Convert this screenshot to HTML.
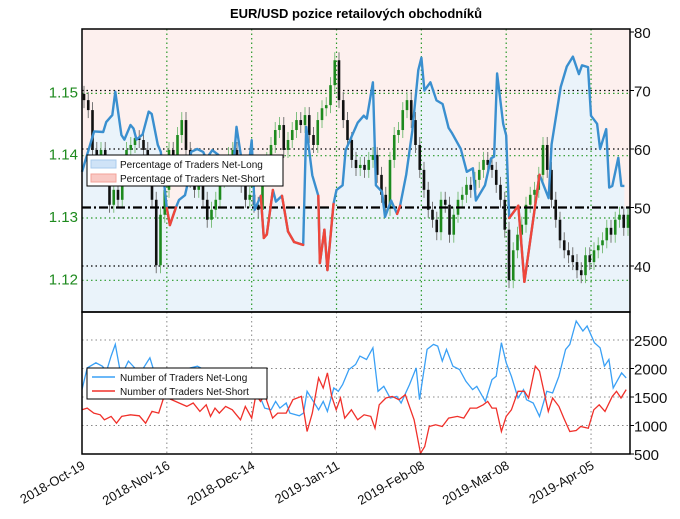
<!DOCTYPE html>
<html><head><meta charset="utf-8"><style>
body{margin:0;background:#fff}
svg{display:block;font-family:"Liberation Sans",sans-serif}
</style></head><body>
<svg id="c" width="680" height="519"></svg>
<script>
const NS="http://www.w3.org/2000/svg";
// ---- data ----
const candleCloses=[1.1486,1.1470,1.1406,1.1390,1.1406,1.1382,1.1318,1.1342,1.1326,1.1374,1.1406,1.1414,1.1425,1.1422,1.1406,1.1366,1.1326,1.1221,1.1302,1.1342,1.1406,1.1382,1.1430,1.1454,1.1406,1.1358,1.1342,1.1350,1.1326,1.1294,1.1310,1.1326,1.1358,1.1382,1.1398,1.1406,1.1382,1.1350,1.1326,1.1334,1.1318,1.1310,1.1366,1.1390,1.1414,1.1438,1.1446,1.1406,1.1422,1.1438,1.1454,1.1446,1.1462,1.1430,1.1414,1.1454,1.1473,1.1478,1.1510,1.1550,1.1486,1.1454,1.1422,1.1390,1.1377,1.1382,1.1374,1.1390,1.1398,1.1366,1.1334,1.1313,1.1390,1.1430,1.1438,1.1470,1.1486,1.1454,1.1414,1.1374,1.1342,1.1310,1.1294,1.1274,1.1326,1.1318,1.1270,1.1302,1.1326,1.1334,1.1350,1.1342,1.1358,1.1374,1.1390,1.1382,1.1374,1.1350,1.1326,1.1278,1.1197,1.1245,1.1270,1.1286,1.1318,1.1334,1.1342,1.1366,1.1414,1.1374,1.1326,1.1294,1.1261,1.1245,1.1237,1.1226,1.1213,1.1205,1.1237,1.1226,1.1245,1.1253,1.1261,1.1281,1.1270,1.1294,1.1302,1.1281,1.1302];
const pctDays=[0,4,7,8,10,11,13,14,16,17,18,20,22,23,25,26,28,29,31,32,34,35,36,38,40,41,43,45,46,48,50,51,53,55,56,57,59,60,61,63,64,66,68,70,73,74,76,78,78.5,80,81,83,84,86,87,91,93,94,96,97,99,100,102,104,105,107,109,111,112,113,115,117,119,121,122,125,127,129,130,133,135,136,137,139,140,141,144,146,151,154,155,158,160,162,164,165,167,168,170,171,173,174,175,177,178,179];
const pctVals=[56.1,63,62.9,64.6,65.8,69.8,62.4,61.6,64.1,63.5,61.6,62.5,66.4,66,60.7,59.5,49.9,47,50,51.3,52.1,54.4,59.5,60,59.5,58.3,59.8,59,57.5,55,57.4,63.8,57,57,61.5,49.6,52,44.8,45.4,53,51,52,45.9,44.1,43.6,63.8,55.5,52,40.5,46.2,39.3,50.6,53,53.8,59.8,64.5,65.7,65.2,71.4,53.8,52.7,48.4,51.2,48.9,50.3,55.6,63.1,73.5,75.6,70,71.4,68.3,67.7,63.6,62.8,60,56.1,56.7,51.2,53.8,58.4,58.7,72.9,64.3,62.3,48.2,50.3,37.3,55.6,51.6,60.8,70.6,74.1,75.8,72.8,74.3,74,65.7,64.3,60,63.4,53.4,53.7,58.5,53.7,53.7];
const longDays=[0,1.7,4.6,6.7,8.1,9.6,11,12.9,15.3,17.4,19.6,22.4,24.3,38.1,58.9,60.3,62.4,63.9,65.3,67.4,68.6,71.7,73.1,74.3,76,78.1,79.6,81,83.1,84.6,86,88.1,90.3,91.7,93.9,96,97.7,99.6,101.7,103.9,105.3,108.1,110.3,111.4,113.9,116,117.4,118.9,120.3,122.4,124.6,126.7,128.9,130.3,133.1,135.3,136.7,138.4,140,141.7,143.9,145.7,146.7,148.9,151,153.4,155.3,157.4,159.6,161,163.1,165.3,166.7,169.1,171,172.4,173.9,175.3,178.1,179.6];
const longVals=[1629,2011,2100,2040,1952,2217,2423,1864,2129,2011,1952,2188,1864,2041,1482,1306,1276,1423,1306,1394,1217,1170,1217,1600,1453,1276,1423,1247,1658,1600,1717,1982,2070,2217,2158,2364,1600,1688,1482,1511,1394,1717,2011,1453,2335,2423,2393,2129,2335,2041,1982,1776,1629,1688,1423,1805,1864,2452,2100,1864,1482,1629,1453,1394,1159,1600,1570,1864,2335,2423,2834,2658,2746,2452,2364,2041,2158,1658,1923,1835];
const shortDays=[0,1.7,3.9,6,7.4,9.6,11.4,13.1,16,18.9,21,23.1,25.3,27.1,34.6,36.7,38.9,41,42.4,43.9,45.3,47.4,49.6,52.3,53.9,56,57.4,58.9,60.3,62.9,64.6,67.4,69.6,72.4,74.3,76,78.1,79.6,81,82.4,83.9,85.3,86.7,88.9,91,93.1,95.3,96.7,98.1,100.3,102.4,104.6,106.7,109.6,111.7,113.1,114.6,116.7,118.9,121,123.9,126,128.1,130.3,132.4,133.9,135.3,136.7,138.4,140,141.7,143.9,146,147.4,149.6,151,153.9,155.3,157.4,159,161,163.1,164.6,167.1,168.9,170.7,172.6,175,176.4,177.9,179.6];
const shortVals=[1276,1306,1217,1188,1100,1159,1041,1159,1188,1170,1041,1247,1217,1511,1335,1394,1247,1364,1159,1306,1217,1335,1276,1100,1335,1129,1541,1423,1541,1129,1217,1217,1453,1511,894,1217,1835,1658,1923,1511,1276,1482,1129,1276,1100,1188,1159,953,1364,1482,1511,1453,1541,1100,512,629,982,1012,982,1129,1159,1129,1306,1306,1364,1423,1306,1306,894,1159,1276,1600,1600,1482,2041,1952,1247,1482,1335,1129,894,912,982,953,1276,1364,1247,1511,1600,1482,1629];
const dateLabels=["2018-Oct-19","2018-Nov-16","2018-Dec-14","2019-Jan-11","2019-Feb-08","2019-Mar-08","2019-Apr-05"];
const dateTickDays=[0,28,56,84,112,140,168];
const pctTicks=[80,70,60,50,40];
const priceTicks=[1.15,1.14,1.13,1.12];
const countTicks=[2500,2000,1500,1000,500];
// ---- geometry ----
const L=82,R=630,T1=29,B1=312,T2=312,B2=454;
const xd=d=>L+d*3.03;
const yp=v=>32+(80-v)*5.85;
const ypr=p=>216-(p-1.13)*6230;
const yc=v=>454-(v-500)/500*28.5;
const svg=document.getElementById('c');
function mk(tag,attrs,parent){const e=document.createElementNS(NS,tag);for(const k in attrs)e.setAttribute(k,attrs[k]);(parent||svg).appendChild(e);return e;}
// panels background
let bg=mk('rect',{x:L,y:T1,width:R-L,height:B1-T1,fill:'#fdf0ee'});


let bg2=mk('rect',{x:L,y:T2,width:R-L,height:B2-T2,fill:'#fff'});


// blue area under pct line
let pts=pctDays.map((d,i)=>xd(d).toFixed(1)+','+yp(pctVals[i]).toFixed(1));
let area=mk('polygon',{points:xd(0)+','+B1+' '+pts.join(' ')+' '+xd(pctDays[pctDays.length-1])+','+B1,fill:'#eaf3fa'});


let below=mk('rect',{x:L,y:yp(50),width:R-L,height:B1-yp(50),fill:'#eaf3fa'});


// grids
const gg=mk('g',{});


pctTicks.forEach(v=>{if(v===50||v===80)return;mk('line',{x1:L,x2:R,y1:yp(v),y2:yp(v),stroke:'#000','stroke-dasharray':'1.5,3','stroke-width':1.2},gg);});
priceTicks.forEach(p=>{mk('line',{x1:L,x2:R,y1:ypr(p)+2,y2:ypr(p)+2,stroke:'#2a9a2a','stroke-dasharray':'1.5,3','stroke-width':1.2},gg);});
dateTickDays.slice(1).forEach(d=>{mk('line',{x1:xd(d),x2:xd(d),y1:T1,y2:B1,stroke:'#2a9a2a','stroke-dasharray':'1.5,3','stroke-width':1.2},gg);
 mk('line',{x1:xd(d),x2:xd(d),y1:T2,y2:B2,stroke:'#888','stroke-dasharray':'1.5,3','stroke-width':1},gg);});
countTicks.slice(0,4).forEach(v=>{mk('line',{x1:L,x2:R,y1:yc(v),y2:yc(v),stroke:'#888','stroke-dasharray':'1.5,3','stroke-width':1},gg);});
// candles
const cg=mk('g',{});


const step=(R-4-L)/(candleCloses.length-1);
candleCloses.forEach((c,i)=>{
 const o=i?candleCloses[i-1]:c+0.001;const x=L+2+i*step;
 const up=c>=o;const col=up?'#1e8a1e':'#111';
 const y1=ypr(Math.max(o,c)),y2=ypr(Math.min(o,c));
 mk('line',{x1:x,x2:x,y1:y1-8,y2:y2+8,stroke:up?'#7fbf7f':'#777','stroke-width':1},cg);
 const r=mk('rect',{x:x-1.3,y:y1,width:2.6,height:Math.max(1,y2-y1),fill:col},cg);
 
 
});
// 50 line
let fifty=mk('line',{x1:L,x2:R,y1:yp(50),y2:yp(50),stroke:'#000','stroke-width':2.2,'stroke-dasharray':'9,3,2,3'});


// pct line
let pl=mk('polyline',{points:pts.join(' '),fill:'none',stroke:'#3a8fcf','stroke-width':2.4,'stroke-linejoin':'round'});


for(let i=1;i<pctVals.length;i++){
 if(pctVals[i]<50.5||pctVals[i-1]<49.8&&pctVals[i]<56){
  if(pctVals[i]<50.5&&pctVals[i-1]<50.5||pctVals[i]<48||pctVals[i-1]<48){
   let s=mk('line',{x1:xd(pctDays[i-1]),y1:yp(pctVals[i-1]),x2:xd(pctDays[i]),y2:yp(pctVals[i]),stroke:'#f0463a','stroke-width':2.4,'stroke-linecap':'round'});
   
   
  }
 }
}
// count lines
let lp=mk('polyline',{points:longDays.map((d,i)=>xd(d).toFixed(1)+','+yc(longVals[i]).toFixed(1)).join(' '),fill:'none',stroke:'#3aa0f5','stroke-width':1.3});


let sp=mk('polyline',{points:shortDays.map((d,i)=>xd(d).toFixed(1)+','+yc(shortVals[i]).toFixed(1)).join(' '),fill:'none',stroke:'#f0302a','stroke-width':1.3});


// frames
let f1=mk('rect',{x:L,y:T1,width:R-L,height:B1-T1,fill:'none',stroke:'#000','stroke-width':1.5});


let f2=mk('rect',{x:L,y:T2,width:R-L,height:B2-T2,fill:'none',stroke:'#000','stroke-width':1.5});


// axis labels
pctTicks.forEach(v=>{mk('line',{x1:R,x2:R+4,y1:yp(v),y2:yp(v),stroke:'#000'});
 let t=mk('text',{x:R+4,y:yp(v)+6,'font-size':15,fill:'#111'});t.textContent=v;
 
 });
priceTicks.forEach(p=>{let t=mk('text',{x:78,y:ypr(p)+6,'font-size':15,fill:'#1e8a1e','text-anchor':'end'});t.textContent=p.toFixed(2);
 
 });
countTicks.forEach(v=>{mk('line',{x1:R,x2:R+4,y1:yc(v),y2:yc(v),stroke:'#000'});
 let t=mk('text',{x:R+4,y:yc(v)+6,'font-size':15,fill:'#111'});t.textContent=v;
 
 });
dateTickDays.forEach((d,i)=>{const x=xd(d);
 let t=mk('text',{x:x+4,y:468,'font-size':13,fill:'#111','text-anchor':'end',transform:`rotate(-30 ${x+4} 468)`});t.textContent=dateLabels[i];
 
 });
let title=mk('text',{x:356,y:18,'font-size':13,'font-weight':'bold','text-anchor':'middle',fill:'#000'});
title.textContent='EUR/USD pozice retailových obchodníků';


// legends
function legend(x,y,w,items,name,kind){
 const g=mk('g',{});
 
 
 mk('rect',{x:x,y:y,width:w,height:31,fill:'#fff',stroke:'#000','stroke-width':1},g);
 items.forEach((it,i)=>{const yy=y+9+i*14;
  if(kind==='patch')mk('rect',{x:x+4,y:yy-4,width:25,height:8,fill:it[1],stroke:it[2]},g);
  else mk('line',{x1:x+5,x2:x+28,y1:yy,y2:yy,stroke:it[1],'stroke-width':1.5},g);
  const t=mk('text',{x:x+33,y:yy+4,'font-size':10,fill:'#111'},g);t.textContent=it[0];});
}
legend(87,155,196,[['Percentage of Traders Net-Long','#cfe3f7','#a9cbec'],['Percentage of Traders Net-Short','#f9c9c4','#f3a39a']],'top-legend','patch');
legend(87,368,180,[['Number of Traders Net-Long','#3aa0f5'],['Number of Traders Net-Short','#f0302a']],'bottom-legend','line');
</script>
</body></html>
